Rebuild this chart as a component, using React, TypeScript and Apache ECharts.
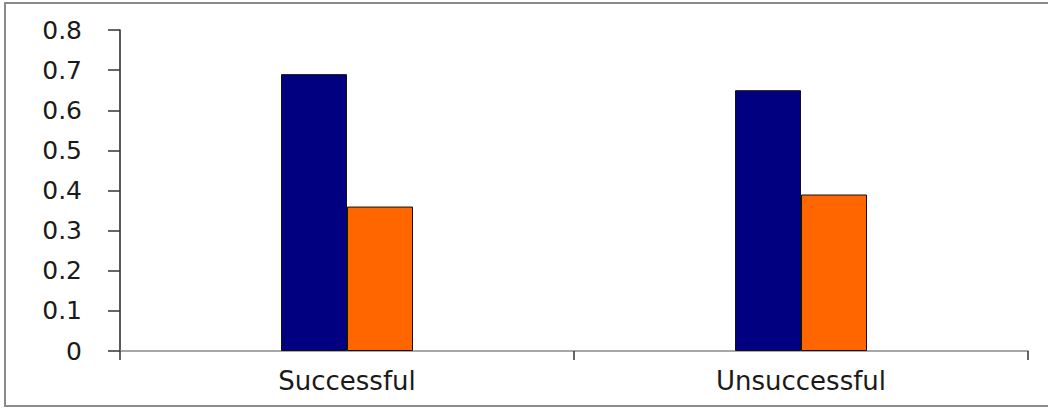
import React, { useEffect, useRef } from "react";
import * as echarts from "echarts";

const categories: string[] = ["Successful", "Unsuccessful"];
const seriesNavy: number[] = [0.69, 0.65];
const seriesOrange: number[] = [0.36, 0.39];
const yMin = 0;
const yMax = 0.8;
const yInterval = 0.1;

export default function App() {
  const ref = useRef<HTMLDivElement>(null);
  useEffect(() => {
    if (!ref.current) return;
    const chart = echarts.init(ref.current, null, { renderer: "svg" });
    chart.setOption({
      animation: false,
      backgroundColor: "#ffffff",
      graphic: [
        {
          type: "rect",
          shape: { x: 5, y: 3, width: 1060, height: 403 },
          style: { fill: "none", stroke: "#8a8a8a", lineWidth: 2 },
          silent: true,
          z: -1,
        },
      ],
      grid: { left: 120, right: 20, top: 30, bottom: 58, containLabel: false },
      xAxis: {
        type: "category",
        data: categories,
        axisLine: { show: true, lineStyle: { color: "#8a8a8a", width: 1.5 } },
        axisTick: { show: true, alignWithLabel: false, length: 9, lineStyle: { color: "#333", width: 1.5 } },
        axisLabel: {
          color: "#1a1a1a",
          fontFamily: "DejaVu Sans",
          fontSize: 26,
          margin: 17,
        },
        splitLine: { show: false },
      },
      yAxis: {
        type: "value",
        min: yMin,
        max: yMax,
        interval: yInterval,
        axisLine: { show: true, lineStyle: { color: "#222", width: 1.5 } },
        axisTick: { show: true, inside: false, length: 12, lineStyle: { color: "#333", width: 1.5 } },
        axisLabel: {
          color: "#1a1a1a",
          fontFamily: "DejaVu Sans",
          fontSize: 25,
          margin: 38,
          formatter: (v: number) => (v === 0 ? "0" : String(Math.round(v * 10) / 10)),
        },
        splitLine: { show: false },
      },
      series: [
        {
          type: "bar",
          data: seriesNavy,
          barWidth: 66,
          barGap: "0%",
          itemStyle: { color: "#000080", borderColor: "#111", borderWidth: 1 },
        },
        {
          type: "bar",
          data: seriesOrange,
          barWidth: 66,
          barGap: "0%",
          itemStyle: { color: "#ff6600", borderColor: "#111", borderWidth: 1 },
        },
      ],
    });
    return () => chart.dispose();
  }, []);
  return (
    <div
      ref={ref}
      style={{ position: "fixed", left: 0, top: 0, width: 1048, height: 409 }}
    />
  );
}
